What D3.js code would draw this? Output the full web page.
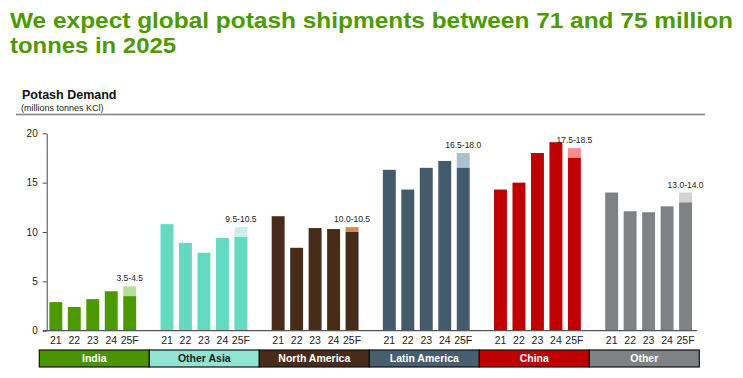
<!DOCTYPE html>
<html>
<head>
<meta charset="utf-8">
<script src="https://cdn.jsdelivr.net/npm/d3@7"></script>
<style>
  body { margin: 0; background: #fff; }
  svg { display: block; font-family: "Liberation Sans", Arial, sans-serif; }
</style>
</head>
<body>
<svg width="743" height="378"></svg>
<script>
// data
const regions = ['India', 'Other Asia', 'North America', 'Latin America', 'China', 'Other']
const years = ['21', '22', '23', '24', '25F']
// actual values 2021-2024, per region
const actuals = {
  'India': [2.9, 2.4, 3.2, 4.0],
  'Other Asia': [10.8, 8.9, 7.9, 9.4],
  'North America': [11.6, 8.4, 10.4, 10.3],
  'Latin America': [16.3, 14.3, 16.5, 17.2],
  'China': [14.3, 15.0, 18.0, 19.1],
  'Other': [14.0, 12.1, 12.0, 12.6]
}
// 2025 forecast range [low, high]
const forecastLow = [3.5, 9.5, 10.0, 16.5, 17.5, 13.0]
const forecastHigh = [4.5, 10.5, 10.5, 18.0, 18.5, 14.0]
const forecastLabels = ['3.5-4.5', '9.5-10.5', '10.0-10.5', '16.5-18.0', '17.5-18.5', '13.0-14.0']
const yTicks = [0, 5, 10, 15, 20]

const barColors = ['#4c9900', '#66d9c1', '#472c1a', '#445b6c', '#c00000', '#7f8285']
const rangeColors = ['#b4e09c', '#c9f1e8', '#d08b5a', '#aebfcd', '#ff8a8e', '#d2d2d2']
const boxColors = ['#4a9300', '#92e3d2', '#472c1a', '#475e6e', '#c00000', '#7f8285']
const boxText = ['#fff', '#222', '#fff', '#fff', '#fff', '#fff']

const svg = d3.select('svg')

// title (stretched a little to match the original's wide face)
const titleLines = [
  { text: 'We expect global potash shipments between 71 and 75 million', y: 28, len: 723 },
  { text: 'tonnes in 2025', y: 53, len: 166 }
]
svg.selectAll('text.title')
  .data(titleLines)
  .enter()
  .append('text')
  .classed('title', true)
  .attr('x', 10).attr('y', d => d.y)
  .attr('textLength', d => d.len).attr('lengthAdjust', 'spacingAndGlyphs')
  .style('font-size', '21.5px').style('font-weight', 'bold').style('fill', '#4c9900')
  .text(d => d.text)

// chart header
svg.append('text').attr('x', 22).attr('y', 99)
  .style('font-size', '12.5px').style('font-weight', 'bold').style('fill', '#111')
  .text('Potash Demand')
svg.append('text').attr('x', 21).attr('y', 111)
  .style('font-size', '9px').style('fill', '#222')
  .text('(millions tonnes KCl)')
svg.append('line')
  .attr('x1', 16).attr('x2', 705).attr('y1', 114.5).attr('y2', 114.5)
  .attr('stroke', '#808080').attr('stroke-width', 1.3)

// scales
const y = d3.scaleLinear().domain([0, 20]).range([330.7, 133.3])
const xGroup = d3.scaleBand().domain(regions).range([44, 711])
const xBar = d3.scaleBand().domain(years).range([0, xGroup.bandwidth()])
  .paddingInner(0.3).paddingOuter(0.658).align(0.22)
const xBox = d3.scaleBand().domain(regions).range([39.3, 699.3])

// y axis
const yAxis = svg.append('g')
  .attr('transform', 'translate(46.7,0)')
  .call(d3.axisLeft(y).tickValues(yTicks).tickSize(4).tickPadding(5).tickSizeOuter(0))
yAxis.select('.domain').attr('stroke', '#444')
yAxis.selectAll('.tick line').attr('stroke', '#444')
yAxis.selectAll('.tick text').style('font-size', '10px').style('fill', '#222')
  .style('font-family', '"Liberation Sans", Arial, sans-serif')

// bars
regions.forEach((r, i) => {
  const g = svg.append('g').attr('transform', `translate(${xGroup(r)},0)`)
  const vals = actuals[r]

  g.selectAll('rect.actual')
    .data(vals)
    .enter()
    .append('rect')
    .attr('x', (d, j) => xBar(years[j]))
    .attr('width', xBar.bandwidth())
    .attr('y', d => y(d))
    .attr('height', d => y(0) - y(d))
    .attr('fill', barColors[i])

  // forecast: solid base plus lighter range on top
  const fx = xBar('25F')
  g.append('rect')
    .attr('x', fx).attr('width', xBar.bandwidth())
    .attr('y', y(forecastHigh[i])).attr('height', y(forecastLow[i]) - y(forecastHigh[i]))
    .attr('fill', rangeColors[i])
  g.append('rect')
    .attr('x', fx).attr('width', xBar.bandwidth())
    .attr('y', y(forecastLow[i])).attr('height', y(0) - y(forecastLow[i]))
    .attr('fill', barColors[i])
  g.append('text')
    .attr('x', fx + xBar.bandwidth() / 2).attr('y', y(forecastHigh[i]) - 5)
    .attr('text-anchor', 'middle')
    .style('font-size', '8.5px').style('fill', '#222')
    .text(forecastLabels[i])

  // year labels
  const xAxis = g.append('g')
    .attr('transform', `translate(0,${y(0)})`)
    .call(d3.axisBottom(xBar).tickSize(0).tickPadding(6))
  xAxis.select('.domain').remove()
  xAxis.selectAll('text').style('font-size', '10.5px').style('fill', '#222')
    .style('font-family', '"Liberation Sans", Arial, sans-serif')
})

// baseline
svg.append('line')
  .attr('x1', 43).attr('x2', 697).attr('y1', y(0)).attr('y2', y(0))
  .attr('stroke', '#555').attr('stroke-width', 1.2)

// region boxes
const boxes = svg.append('g')
boxes.selectAll('rect')
  .data(regions)
  .enter()
  .append('rect')
  .attr('x', d => xBox(d)).attr('width', xBox.bandwidth())
  .attr('y', 350).attr('height', 17)
  .attr('fill', (d, i) => boxColors[i])
  .attr('stroke', '#111').attr('stroke-width', 1.2)
boxes.selectAll('text.box')
  .data(regions)
  .enter()
  .append('text')
  .classed('box', true)
  .attr('x', d => xBox(d) + xBox.bandwidth() / 2).attr('y', 362)
  .attr('text-anchor', 'middle')
  .style('font-size', '10.5px').style('font-weight', 'bold')
  .style('fill', (d, i) => boxText[i])
  .text(d => d)
</script>
</body>
</html>
